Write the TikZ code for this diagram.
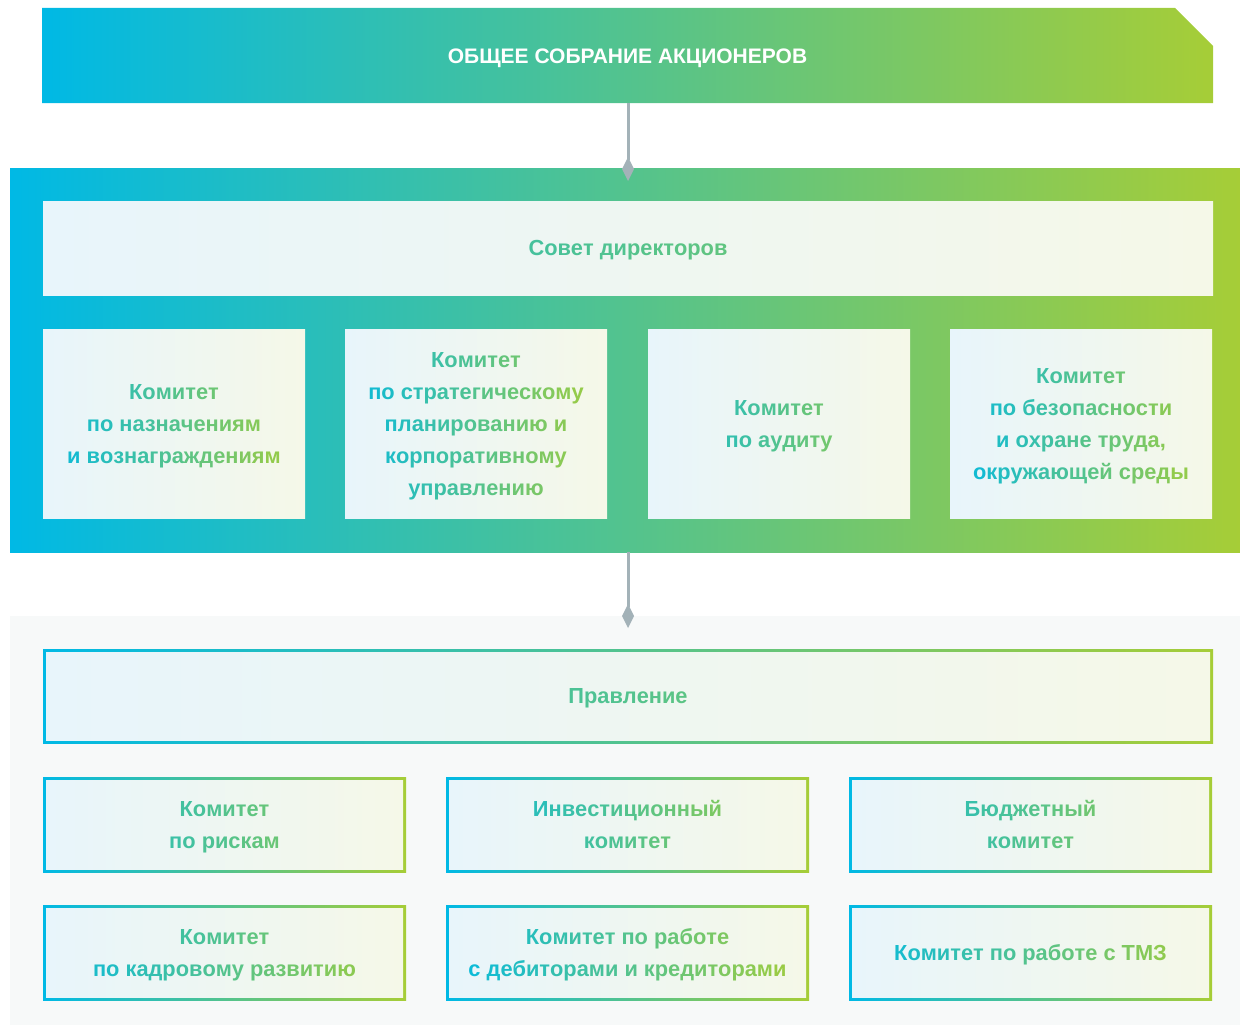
\documentclass[tikz,border=0pt]{standalone}
\usepackage{fontspec}
\setmainfont{Liberation Sans}
\usetikzlibrary{arrows.meta,shapes.misc}

\definecolor{gA}{HTML}{00B9E5}
\definecolor{gB}{HTML}{A6CD37}
\definecolor{lA}{HTML}{E8F5FB}
\definecolor{lB}{HTML}{F5F8E8}
\definecolor{lineC}{HTML}{A3B2B8}
\definecolor{bgC}{HTML}{F7F9F9}

% lines of 32pt, each letter coloured from gA (left edge of the box) to gB (right edge)
\ExplSyntaxOn
\dim_new:N \l__grad_wd_dim
\dim_new:N \l__grad_x_dim
\box_new:N \l__grad_box
\seq_new:N \l__grad_lines_seq
\int_new:N \l__grad_t_int
\NewDocumentCommand \gradtext { m m }
  {
    \dim_set:Nn \l__grad_wd_dim { #1 pt }
    \seq_set_split:Nnn \l__grad_lines_seq { / } { #2 }
    \vbox:n
      {
        \offinterlineskip
        \seq_map_inline:Nn \l__grad_lines_seq
          {
            \hbox_set:Nn \l__grad_box { ##1 }
            \dim_set:Nn \l__grad_x_dim { ( \l__grad_wd_dim - \box_wd:N \l__grad_box ) / 2 }
            \hbox_to_wd:nn { \l__grad_wd_dim }
              {
                \tex_vrule:D height 23.8pt depth 8.2pt width 0pt
                \hfil
                \str_map_inline:nn { ##1 }
                  {
                    \hbox_set:Nn \l__grad_box { ####1 }
                    \int_set:Nn \l__grad_t_int
                      {
                        \fp_eval:n
                          {
                            round ( 100 * \dim_to_fp:n { \l__grad_x_dim + \box_wd:N \l__grad_box / 2 }
                              / \dim_to_fp:n { \l__grad_wd_dim } )
                          }
                      }
                    \int_compare:nNnT { \l__grad_t_int } < { 0 } { \int_set:Nn \l__grad_t_int { 0 } }
                    \int_compare:nNnT { \l__grad_t_int } > { 100 } { \int_set:Nn \l__grad_t_int { 100 } }
                    { \color { gB ! \int_use:N \l__grad_t_int ! gA } \relax ####1 }
                    \dim_add:Nn \l__grad_x_dim { \box_wd:N \l__grad_box }
                  }
                \hfil
              }
          }
      }
  }
\ExplSyntaxOff

\begin{document}
\begin{tikzpicture}[
    x=1pt, y=-1pt,
    banner/.style={
        chamfered rectangle,
        chamfered rectangle corners=north east,
        chamfered rectangle xsep=30pt,
        chamfered rectangle ysep=30pt,
        minimum width=1171pt,
        minimum height=95pt,
        inner sep=0pt,
        left color=gA, right color=gB,
        text=white,
        text height=16pt, text depth=0pt,
        font=\fontsize{21}{24}\selectfont\bfseries
    },
    band/.style={
        rectangle,
        inner sep=0pt,
        anchor=north west
    },
    panel/.style={
        rectangle,
        inner sep=0pt,
        left color=lA, right color=lB,
        font=\fontsize{21.8}{32}\selectfont\bfseries
    },
    framed/.style={
        rectangle,
        inner sep=0pt,
        font=\fontsize{21.8}{32}\selectfont\bfseries,
        path picture={
            \shade[left color=gA, right color=gB]
                (path picture bounding box.south west) rectangle (path picture bounding box.north east);
            \shade[left color=lA, right color=lB]
                ([shift={(3pt,3pt)}]path picture bounding box.south west)
                rectangle ([shift={(-3pt,-3pt)}]path picture bounding box.north east);
        }
    },
    wide/.style={minimum width=1170pt, minimum height=94pt},
    kom/.style={minimum width=262pt, minimum height=189pt},
    tile/.style={minimum width=363pt, minimum height=95pt},
    link/.style={-{Diamond[length=24pt, width=12pt]}, line width=3pt, lineC}
]
\useasboundingbox (0,0) rectangle (1240,1025);

% --- Общее собрание ---
\node[banner] (osa) at (627.5,55.5) {ОБЩЕЕ СОБРАНИЕ АКЦИОНЕРОВ};

% --- Совет директоров и комитеты ---
\node[band, left color=gA, right color=gB, minimum width=1230pt, minimum height=384pt]
    (board) at (10,168) {};
\node[panel, wide] (sd) at (628,248) {\gradtext{1170}{Совет директоров}};
\node[panel, kom] (knv) at (174,423.5)
    {\gradtext{262}{Комитет/по назначениям/и вознаграждениям}};
\node[panel, kom] (ksp) at (476,423.5)
    {\gradtext{262}{Комитет/по стратегическому/планированию и/корпоративному/управлению}};
\node[panel, kom] (kau) at (779,423.5)
    {\gradtext{262}{Комитет/по аудиту}};
\node[panel, kom] (kbo) at (1081,423.5)
    {\gradtext{262}{Комитет/по безопасности/и охране труда,/окружающей среды}};

% --- Правление и комитеты ---
\node[band, fill=bgC, minimum width=1230pt, minimum height=409pt] (mgmt) at (10,616) {};
\node[framed, wide] (pravl) at (628,696) {\gradtext{1170}{Правление}};
\node[framed, tile] (kri) at (224.5,824.5) {\gradtext{363}{Комитет/по рискам}};
\node[framed, tile] (kin) at (627.5,824.5) {\gradtext{363}{Инвестиционный/комитет}};
\node[framed, tile] (kbu) at (1030.5,824.5) {\gradtext{363}{Бюджетный/комитет}};
\node[framed, tile] (kkr) at (224.5,952.5) {\gradtext{363}{Комитет/по кадровому развитию}};
\node[framed, tile] (kdk) at (627.5,952.5)
    {\gradtext{363}{Комитет по работе/с дебиторами и кредиторами}};
\node[framed, tile] (ktmz) at (1030.5,952.5) {\gradtext{363}{Комитет по работе с ТМЗ}};

% --- Связи ---
\draw[link] (sd.north |- osa.south) -- ([yshift=-13pt]sd.north |- board.north);
\draw[link] (sd.south |- board.south) -- ([yshift=-12pt]sd.south |- mgmt.north);

\end{tikzpicture}
\end{document}
